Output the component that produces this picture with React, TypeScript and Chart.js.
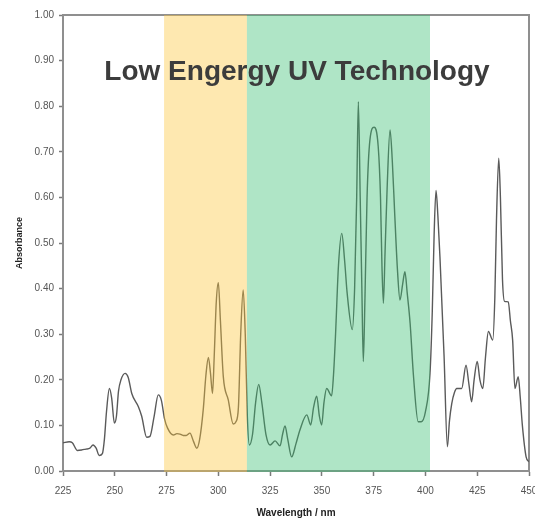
import React, { useEffect, useRef } from "react";
import { Chart, registerables } from "chart.js";

Chart.register(...registerables);

const wavelength = [
  225, 228, 229.5, 232, 234, 236, 238, 239.5, 241, 242.5, 244, 245, 246, 247.4, 248.5, 249.8, 250.8, 251.8, 253, 255,
  256.5, 258.2, 261.4, 263, 265.4, 267, 269, 271, 272.5, 274, 275.5, 278.3, 280, 281.5, 283, 284.5, 286.3, 288, 289.6,
  291, 292.7, 294, 295.2, 296.2, 297.2, 298, 299, 300, 301, 302.4, 304.8, 307.2, 308.5, 309.7, 310.8, 312, 313, 314,
  315, 316.5, 318, 319.5, 321, 323, 325, 327.4, 329.8, 331, 332.2, 333.5, 335.4, 337.5, 339.4, 342.7, 344.6, 346,
  347.5, 348.8, 349.9, 351, 352.3, 354.7, 355.6, 356.6, 358, 359.6, 361, 362.2, 364.7, 365.8, 366.8, 367.6, 368.5,
  369.3, 370, 370.8, 371.8, 373.2, 375.2, 377.2, 378.3, 379, 379.7, 380.5, 381.5, 382.9, 384, 385.2, 386.5, 387.7,
  389, 390.1, 391.2, 392.6, 394.2, 396.5, 398, 400, 402.2, 403.3, 404.2, 405.1, 406, 407, 409, 410.6, 411.6, 412.7,
  414, 415.1, 417.5, 419.6, 421, 422.3, 423.5, 425, 426.3, 427.7, 429, 430.4, 432.5, 433.5, 434.3, 435.4, 436.2,
  437.2, 438.2, 440, 441, 442.1, 443.2, 444.8, 445.8, 446.8, 448.6, 450,
];

const absorbance = [
  0.062, 0.064, 0.062, 0.045, 0.046, 0.048, 0.05, 0.057, 0.05, 0.034, 0.038, 0.07, 0.13, 0.181, 0.16, 0.105, 0.12,
  0.175, 0.2, 0.214, 0.205, 0.17, 0.141, 0.12, 0.074, 0.076, 0.12, 0.167, 0.155, 0.115, 0.094, 0.079, 0.082, 0.081,
  0.078, 0.078, 0.083, 0.065, 0.05, 0.07, 0.134, 0.21, 0.249, 0.215, 0.17, 0.25, 0.37, 0.413, 0.33, 0.207, 0.156,
  0.103, 0.108, 0.14, 0.3, 0.397, 0.3, 0.12, 0.057, 0.08, 0.15, 0.19, 0.15, 0.08, 0.057, 0.066, 0.055, 0.08, 0.099,
  0.07, 0.031, 0.06, 0.09, 0.123, 0.101, 0.14, 0.164, 0.12, 0.101, 0.15, 0.181, 0.165, 0.21, 0.3, 0.45, 0.521, 0.46,
  0.39, 0.31, 0.4, 0.6, 0.81, 0.6, 0.4, 0.24, 0.38, 0.6, 0.726, 0.754, 0.711, 0.6, 0.45, 0.368, 0.48, 0.62, 0.748,
  0.68, 0.56, 0.44, 0.375, 0.41, 0.437, 0.39, 0.324, 0.21, 0.108, 0.108, 0.13, 0.214, 0.35, 0.52, 0.615, 0.56, 0.47,
  0.251, 0.053, 0.11, 0.148, 0.172, 0.181, 0.181, 0.232, 0.19, 0.152, 0.2, 0.24, 0.2, 0.181, 0.25, 0.306, 0.287,
  0.38, 0.55, 0.686, 0.6, 0.42, 0.372, 0.371, 0.33, 0.287, 0.181, 0.207, 0.16, 0.1, 0.031, 0.02,
];

const bandRanges = [
  [273.8, 313.8],
  [313.8, 402.2],
];
const bandColors = ["rgba(252,197,57,0.4)", "rgba(55,190,112,0.4)"];
const overlayTitle = "Low Engergy UV Technology";
const xTitle = "Wavelength / nm";
const yTitle = "Absorbance";

const overlayPlugin = {
  id: "overlay",
  beforeDatasetsDraw(chart: any) {
    const { ctx, chartArea } = chart;
    ctx.save();
    ctx.strokeStyle = "#8f8f8f";
    ctx.lineWidth = 2;
    ctx.beginPath();
    ctx.moveTo(chartArea.left, chartArea.top);
    ctx.lineTo(chartArea.right, chartArea.top);
    ctx.lineTo(chartArea.right, chartArea.bottom);
    ctx.stroke();
    ctx.restore();
  },
  afterDatasetsDraw(chart: any) {
    const { ctx, chartArea, scales } = chart;
    ctx.save();
    bandRanges.forEach((r, i) => {
      const x0 = scales.x.getPixelForValue(r[0]);
      const x1 = scales.x.getPixelForValue(r[1]);
      ctx.fillStyle = bandColors[i];
      ctx.fillRect(x0, chartArea.top, x1 - x0, chartArea.bottom - chartArea.top + 1);
    });
    ctx.fillStyle = "#3c3c3c";
    ctx.font = "bold 28px 'Liberation Sans', Arial, sans-serif";
    ctx.textAlign = "center";
    ctx.textBaseline = "alphabetic";
    ctx.fillText(overlayTitle, 297, 80);
    ctx.restore();
  },
};

export default function App() {
  const ref = useRef<HTMLCanvasElement>(null);
  useEffect(() => {
    const tickFont = { family: "'Liberation Sans Narrow', 'Liberation Sans', Arial", size: 10 };
    const chart = new Chart(ref.current!, {
      type: "line",
      data: {
        datasets: [
          {
            data: wavelength.map((w, i) => ({ x: w, y: absorbance[i] })),
            borderColor: "#5a5a5a",
            borderWidth: 1.4,
            pointRadius: 0,
            fill: false,
            cubicInterpolationMode: "monotone",
          },
        ],
      },
      options: {
        animation: false,
        responsive: false,
        maintainAspectRatio: false,
        layout: { padding: { top: 15, right: 6, left: 0, bottom: 0 } },
        plugins: { legend: { display: false }, tooltip: { enabled: false } },
        scales: {
          x: {
            type: "linear",
            min: 225,
            max: 450,
            grid: { display: true, drawOnChartArea: false, drawTicks: true, tickLength: 5, color: "#7a7a7a", tickWidth: 1.5 },
            border: { display: true, color: "#8f8f8f", width: 2 },
            ticks: { stepSize: 25, color: "#555", font: tickFont, padding: 9, maxRotation: 0 },
            title: {
              display: true,
              text: xTitle,
              color: "#222",
              font: { family: "'Liberation Sans Narrow', 'Liberation Sans', Arial", size: 10, weight: "bold" },
              padding: { top: 2, bottom: 4 },
            },
            afterFit(scale: any) {
              scale.height = 52;
              scale.paddingLeft = 0;
              scale.paddingRight = 0;
            },
          },
          y: {
            min: 0,
            max: 1,
            grid: { display: true, drawOnChartArea: false, drawTicks: true, tickLength: 4, color: "#7a7a7a", tickWidth: 1.5 },
            border: { display: true, color: "#8f8f8f", width: 2 },
            ticks: {
              stepSize: 0.1,
              color: "#555",
              font: tickFont,
              padding: 5,
              callback: (v: any) => Number(v).toFixed(2),
            },
            title: {
              display: true,
              text: yTitle,
              color: "#222",
              font: { family: "'Liberation Sans', Arial", size: 9, weight: "bold" },
              padding: { top: 14, bottom: 0 },
            },
            afterFit(scale: any) {
              scale.width = 63;
              scale.paddingTop = 0;
              scale.paddingBottom = 0;
            },
          },
        },
      },
      plugins: [overlayPlugin],
    } as any);
    return () => chart.destroy();
  }, []);
  return (
    <div style={{ position: "absolute", left: 0, top: 0, width: 535, height: 523, background: "#fff" }}>
      <canvas ref={ref} width={535} height={523} style={{ width: 535, height: 523 }} />
    </div>
  );
}
